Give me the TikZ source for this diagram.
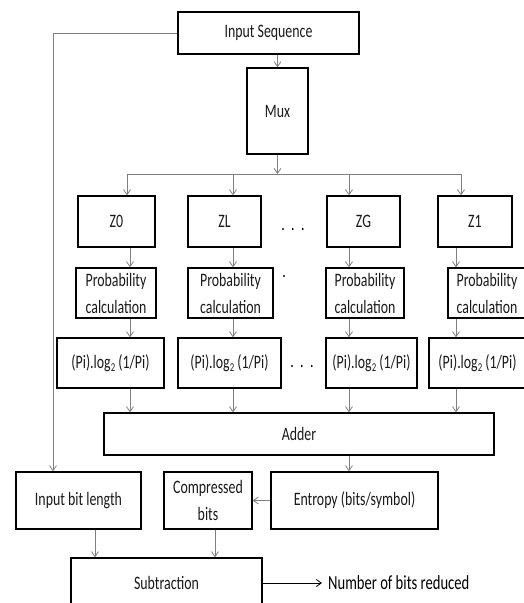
\documentclass[tikz,border=0pt]{standalone}
\usepackage{fontspec}
\setmainfont[FakeStretch=0.73]{Carlito}
\usetikzlibrary{arrows.meta,calc}
\newcommand{\fs}{\fontsize{19}{27}\selectfont}
\newcommand{\lgtwo}{(Pi).log\raisebox{-0.35ex}{\fontsize{12}{12}\selectfont 2} (1/Pi)}
\begin{document}
\begin{tikzpicture}[x=1pt,y=-1pt,
  box/.style={draw=black,line width=1.4pt,inner sep=0pt,align=center,font=\fs,text=black!90},
  conn/.style={draw=black!50,line width=0.8pt,-{Straight Barb[length=5pt,width=7pt]}},
  wire/.style={draw=black!50,line width=0.8pt},
  txt/.style={inner sep=0pt,font=\fs}]
\useasboundingbox (0,0) rectangle (524,603);
\clip (0,0) rectangle (524,603);
% top
\node[box,minimum width=181pt,minimum height=42pt] (inseq) at (268.5,33) {Input Sequence};
\node[box,minimum width=61pt,minimum height=86pt] (mux) at (277.5,111) {Mux};
% Z row
\node[box,minimum width=77pt,minimum height=51pt] (z0) at (116.5,221.5) {Z0};
\node[box,minimum width=73pt,minimum height=51pt] (zl) at (224.5,221.5) {ZL};
\node[box,minimum width=73pt,minimum height=51pt] (zg) at (363.5,221.5) {ZG};
\node[box,minimum width=74pt,minimum height=51pt] (z1) at (475,221.5) {Z1};
% probability row
\node[box,minimum width=80pt,minimum height=50pt] (p0) at (116,293) {Probability\\calculation};
\node[box,minimum width=85pt,minimum height=50pt] (pl) at (230.5,293) {Probability\\calculation};
\node[box,minimum width=78pt,minimum height=50pt] (pg) at (365,293) {Probability\\calculation};
\node[box,minimum width=78pt,minimum height=50pt] (p1) at (487,293) {Probability\\calculation};
% log row
\node[box,minimum width=107pt,minimum height=50pt] (q0) at (110.5,363) {\lgtwo};
\node[box,minimum width=103pt,minimum height=50pt] (ql) at (229.5,363) {\lgtwo};
\node[box,minimum width=91pt,minimum height=50pt] (qg) at (371.5,363) {\lgtwo};
\node[box,minimum width=97pt,minimum height=50pt] (q1) at (477.5,363) {\lgtwo};
% dots
\node[txt,anchor=base] (d1) at (293,230) {.\,\,.\,\,.};
\node[txt,anchor=base] (d2) at (284,277) {.};
\node[txt,anchor=base] (d3) at (302,367) {.\,\,.\,\,.};
% adder and below
\node[box,minimum width=390pt,minimum height=42pt] (adder) at (299,434) {Adder};
\node[box,minimum width=125pt,minimum height=57pt] (ibl) at (78.5,500.5) {Input bit length};
\node[box,minimum width=88pt,minimum height=57pt] (cb) at (208,500.5) {Compressed\\bits};
\node[box,minimum width=167pt,minimum height=57pt] (ent) at (354.5,500.5) {Entropy (bits/symbol)};
\node[box,minimum width=191pt,minimum height=50pt] (sub) at (166.5,583) {Subtraction};
\node[txt,anchor=west,font=\fontsize{20}{22}\selectfont] (nbr) at (328,583) {Number of bits reduced};
% coordinates
\coordinate (b0) at (127,174);
\coordinate (b1) at (233,174);
\coordinate (b2) at (349,174);
\coordinate (b3) at (461,174);
\coordinate (c0) at (130,0);
\coordinate (c1) at (233,0);
\coordinate (c2) at (349,0);
\coordinate (c3) at (456,0);
\coordinate (lft) at (53,33);
% connectors
\draw[conn] (inseq.south -| mux.north) -- (mux.north);
\draw[conn] (mux.south) -- (mux.south |- b0);
\draw[wire] (b0) -- (b3);
\draw[conn] (b0) -- (b0 |- z0.north);
\draw[conn] (b1) -- (b1 |- zl.north);
\draw[conn] (b2) -- (b2 |- zg.north);
\draw[conn] (b3) -- (b3 |- z1.north);
\draw[conn] (z0.south -| c0) -- (p0.north -| c0);
\draw[conn] (zl.south -| c1) -- (pl.north -| c1);
\draw[conn] (zg.south -| c2) -- (pg.north -| c2);
\draw[conn] (z1.south -| c3) -- (p1.north -| c3);
\draw[conn] (p0.south -| c0) -- (q0.north -| c0);
\draw[conn] (pl.south -| c1) -- (ql.north -| c1);
\draw[conn] (pg.south -| c2) -- (qg.north -| c2);
\draw[conn] (p1.south -| c3) -- (q1.north -| c3);
\draw[conn] (q0.south -| c0) -- (adder.north -| c0);
\draw[conn] (ql.south -| c1) -- (adder.north -| c1);
\draw[conn] (qg.south -| c2) -- (adder.north -| c2);
\draw[conn] (q1.south -| c3) -- (adder.north -| c3);
\draw[conn] (inseq.west) -- (lft) -- (lft |- ibl.north);
\draw[conn] (adder.south -| c2) -- (ent.north -| c2);
\draw[conn] (ent.west) -- (cb.east);
\draw[conn] (ibl.south -| 95,0) -- (sub.north -| 95,0);
\draw[conn] (cb.south -| 215,0) -- (sub.north -| 215,0);
\draw[draw=black,line width=0.8pt,-{Straight Barb[length=5pt,width=7pt]}] (sub.east) -- ([xshift=-6pt]nbr.west);
\end{tikzpicture}
\end{document}
